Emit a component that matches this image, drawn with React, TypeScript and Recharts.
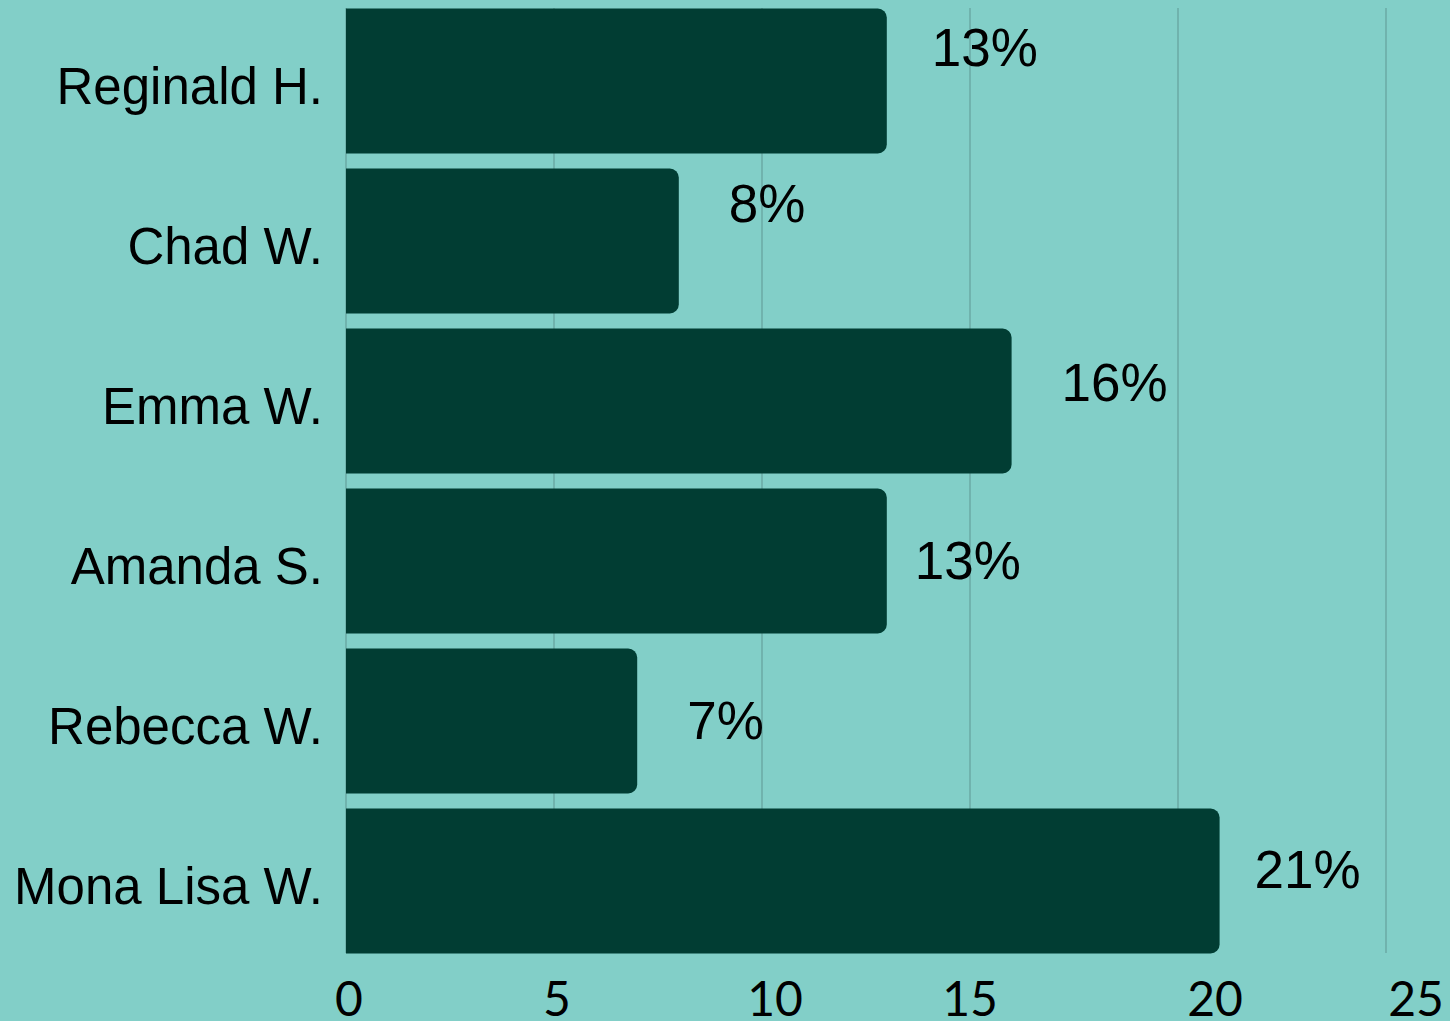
import React from 'react';
import { BarChart, Bar, XAxis, YAxis, CartesianGrid, LabelList } from 'recharts';

const NAMES = ['Reginald H.', 'Chad W.', 'Emma W.', 'Amanda S.', 'Rebecca W.', 'Mona Lisa W.'];
const SHARES = [13, 8, 16, 13, 7, 21];
const X_TICKS = [0, 5, 10, 15, 20, 25];

const data = NAMES.map((name, i) => ({ name, value: SHARES[i] }));

// label placement nudges (styling, relative to the bar end / centre)
const LABEL_DX = [45, 50, 50, 28, 50, 35];
const LABEL_DY = [-15.5, -19, -0.5, 17.5, 17.5, 6.5];
const XTICK_DX = [3, 3, 13, 0, 37, 30];

const BG = '#82cfc8';
const BAR = '#013d33';
const GRID = '#5f9793';

const YTick = (props: any) => {
  const { x, y, payload } = props;
  return (
    <text x={x} y={y} dy={23} textAnchor="end" fill="#000" fontSize={51}
      fontFamily="'Liberation Sans', Arial, sans-serif">
      {payload.value}
    </text>
  );
};

const XTick = (props: any) => {
  const { x, y, payload, index } = props;
  const dx = XTICK_DX[index] ?? 0;
  return (
    <text x={x + dx} y={y} dy={63} textAnchor="middle" fill="#000" fontSize={48}
      fontFamily="Lato, 'Open Sans', sans-serif" fontWeight={400}>
      {payload.value}
    </text>
  );
};

const ValueLabel = (props: any) => {
  const { x, y, width, height, index, value } = props;
  const i = typeof index === 'number' ? index : 0;
  return (
    <text x={x + width + (LABEL_DX[i] ?? 40)} y={y + height / 2 + (LABEL_DY[i] ?? 0)}
      textAnchor="start" fill="#000" fontSize={53}
      fontFamily="'Liberation Sans', Arial, sans-serif">
      {`${value}%`}
    </text>
  );
};

export default function App() {
  return (
    <div style={{ position: 'absolute', left: 0, top: 0, width: 1450, height: 1021, background: BG }}>
      <BarChart
        width={1450}
        height={1021}
        data={data}
        layout="vertical"
        margin={{ top: 8, right: 64, bottom: 0, left: 0 }}
      >
        <CartesianGrid horizontal={false} vertical={true} stroke={GRID} strokeWidth={1} />
        <XAxis
          type="number"
          domain={[0, 25]}
          ticks={X_TICKS}
          axisLine={false}
          tickLine={false}
          tickSize={0}
          tickMargin={0}
          height={68}
          tick={<XTick />}
          interval={0}
        />
        <YAxis
          type="category"
          dataKey="name"
          width={346}
          axisLine={false}
          tickLine={false}
          tickSize={6}
          tickMargin={17}
          padding={{ top: -7.5, bottom: -7.5 }}
          tick={<YTick />}
          interval={0}
        />
        <Bar dataKey="value" fill={BAR} barSize={145} radius={[0, 9, 9, 0]} isAnimationActive={false}>
          <LabelList dataKey="value" content={<ValueLabel />} />
        </Bar>
      </BarChart>
    </div>
  );
}
